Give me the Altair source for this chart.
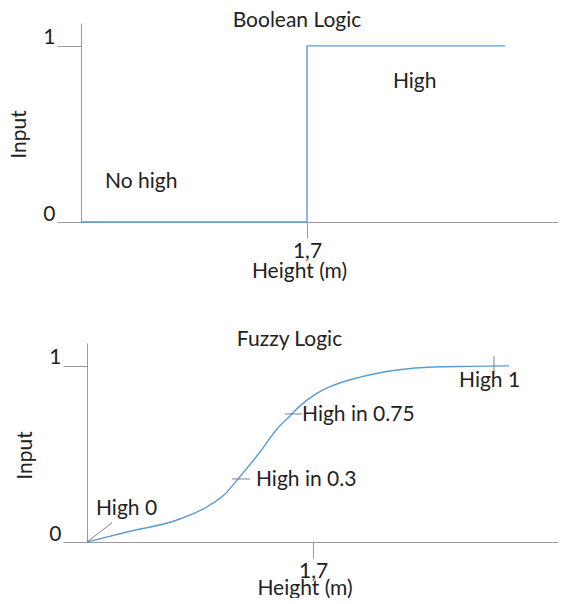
import altair as alt
import pandas as pd

# ---------------- data ----------------
# Boolean logic (step)
bool_x = [1.40, 1.70, 1.70, 1.9628]
bool_y = [0.0, 0.0, 1.0, 1.0]

# Fuzzy logic (S-curve)
fuzzy_x = [1.4000, 1.4531, 1.5195, 1.5633, 1.5832, 1.6004, 1.6296, 1.6522, 1.6695,
           1.6827, 1.7000, 1.7159, 1.7637, 1.8115, 1.8593, 1.9071, 1.9602]
fuzzy_y = [0.000, 0.057, 0.125, 0.210, 0.273, 0.358, 0.511, 0.642, 0.716,
           0.773, 0.830, 0.869, 0.938, 0.977, 0.994, 0.997, 1.000]

x_ticks = [1.7]
y_ticks = [0, 1]

titles = ["Boolean Logic", "Fuzzy Logic"]
title_x = [1.6867, 1.6688]
title_y = [1.108, 1.114]

bool_labels = ["No high", "High"]
bool_lab_x = [1.4319, 1.8141]
bool_lab_y = [0.193, 0.761]

fuzzy_labels = ["High 0", "High in 0.3", "High in 0.75", "High 1"]
fuzzy_lab_x = [1.4119, 1.6243, 1.6854, 1.8938]
fuzzy_lab_y = [0.153, 0.318, 0.6875, 0.881]

# small marker strokes on the fuzzy curve
mark_x = [1.4000, 1.5925, 1.6628, 1.9402]
mark_x2 = [1.4332, 1.6164, 1.6854, 1.9402]
mark_y = [0.000, 0.358, 0.727, 1.057]
mark_y2 = [0.110, 0.358, 0.727, 0.955]

# ---------------- style ----------------
FONT = "Lato"
FS = 21
GREY = "#9a9a9a"
TXT = "#222222"
BLUE = "#5b9bd5"

XDOM_TOP = [1.400, 2.0332]
XDOM_BOT = [1.392, 2.0252]
YDOM = [0.0, 1.13]


def x_enc(dom, t_x, t_y):
    return alt.X(
        "x:Q",
        scale=alt.Scale(domain=dom, nice=False, zero=False),
        axis=alt.Axis(
            values=x_ticks, format=".1f", labelExpr="replace(datum.label, '.', ',')",
            title="Height (m)", grid=False, tickSize=16,
            labelBaseline="alphabetic", labelPadding=19,
            domainColor=GREY, tickColor=GREY, labelColor=TXT,
            labelFont=FONT, labelFontSize=FS, titleFont=FONT, titleFontSize=FS,
            titleFontWeight="normal", titleColor=TXT,
            titleX=t_x, titleY=t_y, titleAlign="center",
            titleBaseline="alphabetic", titleAnchor="start",
        ),
    )


def y_enc(t_x, t_y, off):
    return alt.Y(
        "y:Q",
        scale=alt.Scale(domain=YDOM, nice=False),
        axis=alt.Axis(
            values=y_ticks, format="d", title="Input", grid=False, tickSize=24,
            labelPadding=2, labelBaseline="alphabetic", labelOffset=-2, offset=off,
            domainColor=GREY, tickColor=GREY, labelColor=TXT,
            labelFont=FONT, labelFontSize=FS, titleFont=FONT, titleFontSize=FS,
            titleFontWeight="normal", titleColor=TXT,
            titleX=t_x, titleY=t_y, titleAngle=270,
            titleAlign="center", titleBaseline="alphabetic", titleAnchor="start",
        ),
    )


def text_layer(df):
    return alt.Chart(df).mark_text(
        align="left", baseline="alphabetic", font=FONT, fontSize=FS, color=TXT
    ).encode(x="x:Q", y="y:Q", text="t:N")


def title_layer(i):
    df = pd.DataFrame({"x": [title_x[i]], "y": [title_y[i]], "t": [titles[i]]})
    return alt.Chart(df).mark_text(
        align="center", baseline="alphabetic", font=FONT, fontSize=FS, color=TXT
    ).encode(x="x:Q", y="y:Q", text="t:N")


# ---------------- top chart ----------------
bool_df = pd.DataFrame({"x": bool_x, "y": bool_y})
bool_lab_df = pd.DataFrame({"x": bool_lab_x, "y": bool_lab_y, "t": bool_labels})

top_line = alt.Chart(bool_df).mark_line(color=BLUE, strokeWidth=1.4).encode(
    x=x_enc(XDOM_TOP, 218, 55), y=y_enc(-55.5, 111, 0)
)
top = alt.layer(top_line, text_layer(bool_lab_df), title_layer(0)).properties(
    width=477, height=199
)

# ---------------- bottom chart ----------------
fuzzy_df = pd.DataFrame({"x": fuzzy_x, "y": fuzzy_y})
fuzzy_lab_df = pd.DataFrame({"x": fuzzy_lab_x, "y": fuzzy_lab_y, "t": fuzzy_labels})
mark_df = pd.DataFrame({"x": mark_x, "x2": mark_x2, "y": mark_y, "y2": mark_y2})

bot_line = alt.Chart(fuzzy_df).mark_line(color=BLUE, strokeWidth=1.4,
                                         interpolate="monotone").encode(
    x=x_enc(XDOM_BOT, 223.5, 52), y=y_enc(-56, 112, -6)
)
bot_marks = alt.Chart(mark_df).mark_rule(color="#7f7f7f", strokeWidth=1).encode(
    x="x:Q", x2="x2:Q", y="y:Q", y2="y2:Q"
)
bottom = alt.layer(bot_line, bot_marks, text_layer(fuzzy_lab_df), title_layer(1)).properties(
    width=477, height=199
)

chart = alt.vconcat(top, bottom, spacing=47).properties(
    padding={"left": 0, "top": 1, "right": 0, "bottom": 0},
    background="white",
).configure_view(stroke="transparent", strokeWidth=0)

chart.save("out.html", embed_options={"renderer": "svg", "actions": False})
